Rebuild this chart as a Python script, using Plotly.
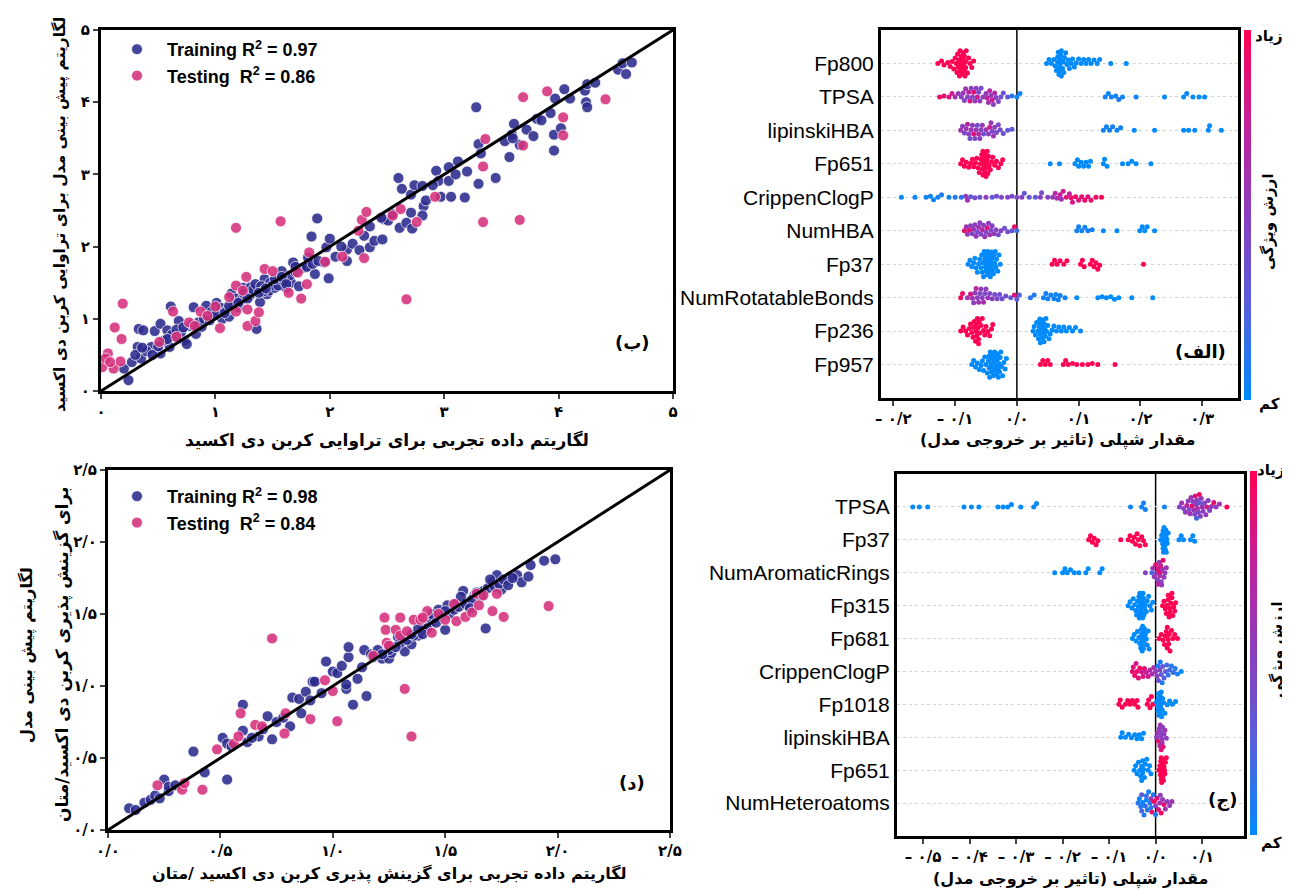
import numpy as np
import plotly.graph_objects as go

# ---------------- Panel (ب): CO2 permeability (log) ----------------
perm_train = [(0.24,0.15),(0.20,0.31),(0.27,0.40),(0.32,0.61),(0.33,0.86),(0.37,0.84),(0.35,0.45),(0.44,0.61),(0.47,0.83),(0.52,0.93),(0.52,0.52),(0.58,0.84),(0.60,0.61),(0.61,1.17),(0.65,0.75),(0.68,0.97),(0.73,0.70),(0.75,0.65),(0.81,1.16),(0.83,0.79),(0.88,0.89),(0.92,1.18),(0.95,1.05),(1.01,1.22),(1.02,1.08),(1.06,1.00),(1.12,1.03),(1.14,1.35),(1.20,1.16),(1.24,1.43),(1.27,1.30),(1.31,1.44),(1.36,0.86),(1.39,1.23),(1.43,1.55),(1.45,1.34),(1.47,1.39),(1.52,1.43),(1.56,1.55),(1.58,1.66),(1.62,1.43),(1.66,1.50),(1.68,1.78),(1.73,1.45),(1.78,1.71),(1.81,1.85),(1.84,2.14),(1.87,1.62),(1.89,2.39),(1.95,1.78),(1.97,1.99),(1.99,1.56),(2.00,2.11),(2.05,1.86),(2.15,1.80),(2.15,1.96),(2.20,2.04),(2.26,1.95),(2.35,2.28),(2.35,1.99),(2.39,2.08),(2.46,2.10),(2.47,2.38),(2.51,2.36),(2.60,2.95),(2.61,2.26),(2.63,2.80),(2.67,2.33),(2.71,2.72),(2.71,2.47),(2.72,2.25),(2.74,2.85),(2.81,2.84),(2.82,2.56),(2.84,2.64),(2.81,2.43),(2.93,3.05),(2.95,2.91),(2.97,2.69),(3.04,3.10),(3.04,2.91),(3.06,2.69),(3.12,3.18),(3.18,2.68),(3.20,3.04),(3.28,3.93),(3.30,2.87),(3.30,3.42),(3.32,3.29),(3.45,2.95),(3.53,3.46),(3.57,3.24),(3.59,3.55),(3.61,3.70),(3.66,3.41),(3.72,3.62),(3.78,3.53),(3.81,3.77),(3.93,3.85),(3.96,3.55),(3.96,3.33),(3.97,4.05),(4.02,3.64),(4.05,4.18),(4.23,4.16),(4.24,4.00),(4.25,3.93),(4.25,4.25),(4.32,4.27),(4.52,4.45),(4.56,4.54),(4.59,4.39),(4.64,4.55),
              (0.40,0.55),(0.45,0.50),(0.55,0.70),(0.62,0.78),(0.70,0.82),(0.78,0.90),(0.85,0.95),(0.90,1.00),(0.97,1.10),(1.05,1.15),(1.10,1.12),(1.15,1.20),(1.18,1.28),(1.22,1.25),(1.25,1.35),(1.30,1.32),(1.33,1.40),(1.35,1.48),(1.40,1.45),(1.42,1.38),(1.48,1.50),(1.50,1.47),(1.55,1.46),(1.60,1.52),(1.65,1.60),(1.70,1.65),(1.75,1.70),(1.80,1.72),(1.85,1.76),(1.90,1.80),(0.30,0.50),(0.36,0.60),(0.50,0.62),(0.58,0.72),(0.66,0.85),(0.72,0.88),(0.80,0.92),(0.95,0.98),(1.00,1.05),(1.08,1.08),(1.12,1.18),(1.20,1.22),(1.28,1.28),(1.38,1.36),(1.44,1.42),(1.52,1.55),(1.58,1.58),(1.62,1.48),(1.70,1.72),(2.10,2.00),(2.30,2.15),(2.45,2.40),(2.55,2.45),(2.90,2.85),(3.10,3.00),(3.60,3.50),(3.85,3.75),(4.10,4.05)]
perm_test = [(0.01,0.33),(0.06,0.52),(0.11,0.31),(0.12,0.88),(0.17,0.41),(0.18,0.72),(0.19,1.21),(0.51,0.68),(0.63,1.10),(0.66,0.75),(0.77,0.95),(0.82,0.90),(0.87,1.10),(1.00,1.17),(1.04,0.87),(1.18,1.10),(1.18,2.26),(1.18,1.46),(1.27,1.58),(1.28,0.90),(1.28,1.13),(1.35,0.97),(1.38,1.09),(1.43,1.69),(1.50,1.66),(1.57,2.35),(1.64,1.36),(1.72,1.64),(1.75,1.28),(1.80,1.48),(1.82,1.92),(1.96,1.79),(2.11,1.86),(2.30,1.84),(2.25,2.22),(2.28,2.37),(2.32,2.48),(2.55,2.43),(2.62,2.52),(2.67,1.27),(2.76,2.34),(2.92,2.69),(3.34,2.34),(3.34,3.11),(3.36,3.49),(3.66,2.37),(3.69,3.40),(3.69,4.07),(3.90,4.15),(4.04,3.54),(4.04,3.79),(4.41,4.04),(1.12,1.30),(1.24,1.39),(0.93,1.04),(0.04,0.45),(0.08,0.40)]

# ---------------- Panel (د): CO2/CH4 selectivity (log) ----------------
sel_train = [(0.094,0.151),(0.123,0.139),(0.162,0.19),(0.19,0.21),(0.21,0.24),(0.23,0.22),(0.25,0.35),(0.27,0.27),(0.38,0.545),(0.43,0.40),(0.51,0.64),(0.53,0.60),(0.53,0.35),(0.60,0.87),(0.60,0.69),(0.62,0.61),(0.67,0.65),(0.71,0.79),(0.73,0.63),(0.75,0.75),(0.81,0.72),(0.82,0.92),(0.85,0.91),(0.86,0.81),(0.88,0.96),(0.91,1.03),(0.92,1.03),(0.97,1.17),(1.00,1.10),(1.02,1.09),(1.04,1.14),(1.06,0.98),(1.06,1.01),(1.07,1.20),(1.07,1.27),(1.09,0.87),(1.11,1.05),(1.13,1.13),(1.14,1.25),(1.15,0.93),(1.17,1.22),(1.20,1.25),(1.22,1.19),(1.25,1.19),(1.26,1.23),(1.29,1.34),(1.32,1.24),(1.35,1.29),(1.38,1.35),(1.41,1.39),(1.44,1.45),(1.47,1.53),(1.50,1.39),(1.51,1.56),(1.55,1.57),(1.58,1.66),(1.60,1.58),(1.63,1.63),(1.67,1.66),(1.68,1.40),(1.71,1.72),(1.73,1.77),(1.75,1.67),(1.77,1.73),(1.79,1.76),(1.82,1.77),(1.84,1.72),(1.87,1.76),(1.88,1.84),(1.94,1.87),(1.99,1.88),
             (1.30,1.30),(1.33,1.32),(1.36,1.35),(1.40,1.42),(1.42,1.40),(1.45,1.47),(1.48,1.49),(1.52,1.50),(1.54,1.53),(1.56,1.55),(1.59,1.57),(1.62,1.60),(1.64,1.65),(1.66,1.62),(1.69,1.68),(1.72,1.69),(1.74,1.71),(1.76,1.74),(1.78,1.70),(1.80,1.75),(1.25,1.25),(1.28,1.27),(1.18,1.20),(1.22,1.22),(1.44,1.50),(1.46,1.44),(1.50,1.52),(1.57,1.62),(1.61,1.54),(1.70,1.74),(0.55,0.58),(0.64,0.64),(0.69,0.70),(0.78,0.78),(0.90,0.90),(0.95,0.95),(0.27,0.30),(0.30,0.31),(1.35,1.36),(1.38,1.40),(1.40,1.36)]
sel_test = [(0.22,0.31),(0.33,0.28),(0.34,0.325),(0.42,0.28),(0.485,0.56),(0.56,0.60),(0.58,0.65),(0.59,0.81),(0.655,0.73),(0.685,0.72),(0.73,1.33),(0.785,0.67),(0.79,0.81),(0.90,0.77),(0.965,1.04),(1.00,0.965),(1.02,0.755),(1.18,1.21),(1.23,1.475),(1.235,1.39),(1.24,1.30),(1.25,1.28),(1.28,1.39),(1.30,1.475),(1.30,1.35),(1.32,0.98),(1.33,1.38),(1.35,0.65),(1.36,1.46),(1.39,1.46),(1.42,1.52),(1.44,1.37),(1.50,1.46),(1.54,1.57),(1.55,1.45),(1.59,1.48),(1.62,1.51),(1.64,1.64),(1.65,1.56),(1.67,1.63),(1.71,1.52),(1.73,1.64),(1.76,1.48),(1.96,1.555),(1.40,1.475),(1.47,1.50)]

# ---------------- Panel (الف): SHAP, permeability model ----------------
A_features = ["Fp800", "TPSA", "lipinskiHBA", "Fp651", "CrippenClogP", "NumHBA", "Fp37", "NumRotatableBonds", "Fp236", "Fp957"]
A_Fp800_high = [-0.128,-0.122,-0.118,-0.112,-0.108,-0.105,-0.102,-0.1,-0.098,-0.097,-0.095,-0.094,-0.093,-0.092,-0.091,-0.09,-0.089,-0.088,-0.087,-0.086,-0.085,-0.084,-0.083,-0.082,-0.08,-0.078,-0.076,-0.073,-0.07,-0.096,-0.091,-0.089,-0.087,-0.085,-0.083]
A_Fp800_low = [0.048,0.052,0.056,0.06,0.062,0.064,0.066,0.067,0.068,0.069,0.07,0.071,0.072,0.074,0.075,0.077,0.079,0.081,0.083,0.085,0.088,0.09,0.093,0.096,0.1,0.104,0.108,0.112,0.116,0.12,0.125,0.13,0.134,0.152,0.177,0.066,0.068,0.07,0.072,0.076]
A_TPSA_shap = [-0.125,-0.118,-0.11,-0.105,-0.1,-0.095,-0.09,-0.087,-0.085,-0.083,-0.08,-0.078,-0.076,-0.074,-0.072,-0.07,-0.068,-0.066,-0.064,-0.062,-0.06,-0.058,-0.055,-0.05,-0.048,-0.046,-0.044,-0.042,-0.04,-0.038,-0.036,-0.034,-0.03,-0.026,-0.022,-0.015,-0.008,0.0,0.005,0.143,0.148,0.153,0.16,0.165,0.171,0.193,0.239,0.27,0.275,0.285,0.295,0.304]
A_TPSA_val = [0.95,0.9,0.85,0.8,0.6,0.55,0.5,0.55,0.45,0.6,0.5,0.7,0.85,0.5,0.45,0.9,0.55,0.5,0.8,0.45,0.5,0.4,0.5,0.55,0.75,0.6,0.7,0.55,0.8,0.5,0.65,0.5,0.45,0.4,0.35,0.3,0.1,0.05,0.05,0.05,0.05,0.05,0.05,0.1,0.05,0.05,0.0,0.0,0.05,0.0,0.0,0.0]
A_lipinskiHBA_shap = [-0.091,-0.088,-0.085,-0.082,-0.08,-0.078,-0.076,-0.074,-0.072,-0.07,-0.068,-0.066,-0.064,-0.062,-0.06,-0.058,-0.056,-0.054,-0.05,-0.046,-0.044,-0.042,-0.04,-0.038,-0.036,-0.033,-0.03,-0.027,-0.022,-0.015,-0.008,0.14,0.145,0.15,0.155,0.162,0.168,0.19,0.223,0.27,0.278,0.288,0.31,0.312,0.331]
A_lipinskiHBA_val = [0.6,0.5,0.45,0.55,0.7,0.5,0.4,0.6,0.5,0.85,0.45,0.55,0.4,0.7,0.5,0.45,0.55,0.35,0.6,0.5,0.8,0.55,0.45,0.6,0.5,0.4,0.45,0.4,0.35,0.3,0.3,0.05,0.05,0.05,0.05,0.05,0.05,0.0,0.0,0.0,0.0,0.0,0.0,0.0,0.0]
A_Fp651_high = [-0.091,-0.088,-0.085,-0.082,-0.078,-0.075,-0.072,-0.07,-0.067,-0.065,-0.063,-0.061,-0.059,-0.058,-0.057,-0.056,-0.055,-0.054,-0.053,-0.052,-0.051,-0.05,-0.049,-0.048,-0.047,-0.046,-0.045,-0.043,-0.041,-0.039,-0.036,-0.033,-0.03,-0.026,-0.023,-0.055,-0.052,-0.05,-0.048]
A_Fp651_low = [0.054,0.069,0.094,0.098,0.1,0.104,0.108,0.112,0.116,0.119,0.14,0.142,0.146,0.171,0.18,0.186,0.193,0.217]
A_CrippenClogP_shap = [-0.187,-0.165,-0.147,-0.14,-0.135,-0.128,-0.122,-0.11,-0.1,-0.09,-0.083,-0.08,-0.075,-0.068,-0.06,-0.05,-0.04,-0.033,-0.025,-0.015,-0.008,0.0,0.008,0.012,0.02,0.03,0.038,0.04,0.05,0.058,0.062,0.065,0.07,0.072,0.075,0.08,0.085,0.088,0.09,0.095,0.1,0.105,0.11,0.115,0.12,0.128,0.137]
A_CrippenClogP_val = [0.0,0.02,0.05,0.05,0.03,0.05,0.08,0.05,0.1,0.15,0.55,0.6,0.3,0.4,0.35,0.55,0.3,0.4,0.45,0.5,0.4,0.45,0.5,0.3,0.35,0.3,0.5,0.4,0.45,0.55,0.7,0.65,0.75,0.6,0.8,0.85,0.75,0.9,0.8,0.95,0.85,0.9,0.95,0.85,0.9,0.95,1.0]
A_NumHBA_shap = [-0.085,-0.082,-0.08,-0.077,-0.075,-0.072,-0.07,-0.068,-0.066,-0.064,-0.062,-0.06,-0.058,-0.056,-0.054,-0.052,-0.05,-0.048,-0.046,-0.044,-0.042,-0.04,-0.037,-0.034,-0.03,-0.026,-0.02,-0.015,-0.008,-0.004,0.0,0.097,0.1,0.105,0.11,0.115,0.122,0.14,0.162,0.199,0.203,0.207,0.211,0.223]
A_NumHBA_val = [0.9,0.6,0.55,0.85,0.5,0.45,0.6,0.5,0.55,0.4,0.6,0.5,0.45,0.7,0.5,0.55,0.45,0.85,0.5,0.6,0.45,0.5,0.55,0.45,0.4,0.5,0.35,0.4,0.3,0.9,0.2,0.05,0.05,0.05,0.05,0.05,0.05,0.0,0.0,0.0,0.0,0.0,0.0,0.0]
A_Fp37_high = [0.057,0.061,0.065,0.07,0.076,0.081,0.103,0.106,0.109,0.119,0.122,0.125,0.128,0.131,0.134,0.205]
A_Fp37_low = [-0.079,-0.076,-0.073,-0.07,-0.068,-0.066,-0.064,-0.062,-0.06,-0.058,-0.057,-0.056,-0.055,-0.054,-0.053,-0.052,-0.051,-0.05,-0.049,-0.048,-0.047,-0.046,-0.045,-0.044,-0.043,-0.042,-0.041,-0.04,-0.039,-0.038,-0.037,-0.036,-0.035,-0.034,-0.033,-0.031,-0.029,-0.027,-0.05,-0.047,-0.044,-0.041]
A_NumRot_shap = [-0.091,-0.088,-0.08,-0.075,-0.072,-0.07,-0.068,-0.066,-0.064,-0.062,-0.06,-0.058,-0.056,-0.054,-0.052,-0.05,-0.047,-0.044,-0.04,-0.036,-0.032,-0.028,-0.024,-0.018,-0.01,-0.004,0.0,0.004,0.022,0.028,0.043,0.047,0.05,0.055,0.06,0.063,0.067,0.07,0.078,0.097,0.131,0.138,0.145,0.152,0.158,0.165,0.186,0.22]
A_NumRot_val = [0.95,0.9,0.6,0.85,0.6,0.5,0.55,0.7,0.5,0.6,0.45,0.55,0.5,0.65,0.45,0.5,0.55,0.45,0.5,0.4,0.45,0.4,0.35,0.4,0.3,0.85,0.3,0.25,0.1,0.1,0.05,0.05,0.05,0.05,0.05,0.05,0.05,0.05,0.05,0.0,0.0,0.0,0.0,0.0,0.0,0.0,0.0,0.0]
A_Fp236_high = [-0.091,-0.087,-0.083,-0.08,-0.077,-0.075,-0.073,-0.071,-0.069,-0.067,-0.066,-0.065,-0.064,-0.063,-0.062,-0.061,-0.06,-0.058,-0.056,-0.054,-0.052,-0.05,-0.047,-0.044,-0.041,-0.039,-0.07,-0.066,-0.062]
A_Fp236_low = [0.026,0.028,0.03,0.032,0.034,0.036,0.037,0.038,0.039,0.04,0.041,0.042,0.043,0.044,0.045,0.046,0.047,0.048,0.05,0.052,0.054,0.057,0.06,0.064,0.068,0.072,0.076,0.08,0.085,0.09,0.095,0.103,0.035,0.038,0.041,0.044]
A_Fp957_high = [0.038,0.042,0.046,0.05,0.054,0.075,0.079,0.083,0.09,0.097,0.106,0.115,0.122,0.131,0.159]
A_Fp957_low = [-0.073,-0.07,-0.067,-0.064,-0.061,-0.058,-0.056,-0.054,-0.052,-0.05,-0.048,-0.046,-0.045,-0.044,-0.043,-0.042,-0.041,-0.04,-0.039,-0.038,-0.037,-0.036,-0.035,-0.034,-0.033,-0.032,-0.031,-0.03,-0.029,-0.028,-0.027,-0.026,-0.025,-0.023,-0.021,-0.019,-0.017,-0.045,-0.04,-0.035,-0.03]

# ---------------- Panel (ج): SHAP, selectivity model ----------------
C_features = ["TPSA", "Fp37", "NumAromaticRings", "Fp315", "Fp681", "CrippenClogP", "Fp1018", "lipinskiHBA", "Fp651", "NumHeteroatoms"]
C_TPSA_shap = [-0.522,-0.508,-0.49,-0.412,-0.396,-0.38,-0.339,-0.328,-0.318,-0.31,-0.29,-0.262,-0.256,-0.054,-0.03,-0.026,-0.022,0.019,0.051,0.056,0.06,0.064,0.067,0.07,0.072,0.074,0.076,0.078,0.08,0.082,0.084,0.085,0.087,0.089,0.09,0.092,0.094,0.096,0.098,0.1,0.102,0.105,0.108,0.11,0.113,0.116,0.12,0.125,0.13,0.137,0.153,0.088,0.095]
C_TPSA_val = [0.0,0.0,0.0,0.0,0.0,0.0,0.0,0.0,0.0,0.0,0.0,0.0,0.0,0.05,0.05,0.05,0.05,0.05,0.5,0.6,0.45,0.55,0.7,0.5,0.45,0.6,0.55,0.9,0.5,0.6,0.45,0.85,0.55,0.5,0.65,0.45,0.95,0.5,0.55,0.6,0.5,0.45,0.55,0.8,0.5,0.45,0.55,0.9,0.5,0.6,1.0,0.2,0.3]
C_Fp37_high = [-0.144,-0.14,-0.136,-0.132,-0.128,-0.124,-0.075,-0.059,-0.055,-0.05,-0.046,-0.043,-0.04,-0.037,-0.034,-0.03,-0.026,-0.022]
C_Fp37_low = [0.011,0.013,0.015,0.016,0.017,0.018,0.019,0.02,0.021,0.022,0.023,0.024,0.025,0.027,0.05,0.055,0.06,0.075,0.08,0.084,0.016,0.018,0.02,0.022]
C_NumArom_shap = [-0.217,-0.2,-0.195,-0.19,-0.183,-0.175,-0.165,-0.15,-0.145,-0.12,-0.115,-0.022,-0.006,-0.003,0.0,0.002,0.004,0.006,0.008,0.01,0.012,0.014,0.016,0.018,0.02,0.023,0.005,0.009,0.011,0.013,-0.008]
C_NumArom_val = [0.0,0.0,0.0,0.0,0.0,0.0,0.0,0.0,0.0,0.0,0.0,0.5,0.6,0.55,0.9,0.6,0.5,0.85,0.55,0.95,0.5,0.6,0.9,0.55,0.5,0.6,0.7,0.65,0.8,0.55,0.2]
C_Fp315_high = [0.015,0.018,0.021,0.023,0.025,0.027,0.029,0.031,0.033,0.035,0.037,0.039,0.041,0.043,0.027,0.031,0.035]
C_Fp315_low = [-0.059,-0.055,-0.051,-0.048,-0.045,-0.043,-0.041,-0.039,-0.037,-0.036,-0.035,-0.034,-0.033,-0.032,-0.031,-0.03,-0.029,-0.028,-0.027,-0.026,-0.025,-0.024,-0.022,-0.02,-0.018,-0.015,-0.012,-0.009,-0.006,-0.035,-0.032,-0.03,-0.028]
C_Fp681_high = [0.007,0.012,0.016,0.019,0.021,0.023,0.025,0.027,0.029,0.031,0.034,0.037,0.041,0.047,0.025,0.028]
C_Fp681_low = [-0.05,-0.046,-0.042,-0.039,-0.036,-0.034,-0.032,-0.031,-0.03,-0.029,-0.028,-0.027,-0.026,-0.025,-0.024,-0.022,-0.02,-0.018,-0.016,-0.014,-0.03,-0.028,-0.026]
C_CrippenClogP_shap = [-0.05,-0.048,-0.045,-0.042,-0.04,-0.037,-0.034,-0.03,-0.027,-0.024,-0.02,-0.016,-0.012,-0.008,-0.004,0.0,0.003,0.006,0.009,0.012,0.015,0.018,0.021,0.024,0.027,0.03,0.034,0.038,0.042,0.047,0.055,0.005,0.01,0.014]
C_CrippenClogP_val = [0.9,0.85,0.95,0.8,0.9,0.85,0.95,0.8,0.85,0.9,0.75,0.8,0.7,0.65,0.6,0.55,0.5,0.4,0.45,0.3,0.35,0.25,0.3,0.2,0.15,0.2,0.1,0.15,0.1,0.05,0.0,0.1,0.05,0.1]
C_Fp1018_high = [-0.079,-0.076,-0.072,-0.065,-0.06,-0.055,-0.05,-0.045,-0.04,-0.038,-0.018,-0.015,-0.012,-0.009,-0.006]
C_Fp1018_low = [0.002,0.004,0.005,0.006,0.007,0.008,0.009,0.01,0.011,0.012,0.013,0.014,0.015,0.017,0.02,0.025,0.03,0.036,0.043,0.006,0.008,0.01]
C_lipinskiHBA_shap = [-0.075,-0.072,-0.065,-0.058,-0.052,-0.045,-0.04,-0.035,-0.03,-0.026,0.002,0.004,0.006,0.008,0.01,0.011,0.012,0.013,0.014,0.015,0.016,0.018,0.02,0.023,0.009,0.012]
C_lipinskiHBA_val = [0.0,0.0,0.0,0.0,0.0,0.0,0.0,0.0,0.0,0.0,0.5,0.6,0.9,0.55,0.6,0.5,0.85,0.55,0.6,0.5,0.9,0.55,0.6,0.5,0.7,0.45]
C_Fp651_high = [0.007,0.009,0.01,0.011,0.012,0.013,0.014,0.015,0.016,0.017,0.018,0.019,0.02,0.021,0.023,0.012,0.014,0.016]
C_Fp651_low = [-0.046,-0.043,-0.04,-0.037,-0.034,-0.032,-0.03,-0.028,-0.026,-0.024,-0.022,-0.019,-0.016,-0.013,-0.01,-0.03,-0.028]
C_NumHetero_shap = [-0.038,-0.035,-0.032,-0.03,-0.028,-0.025,-0.022,-0.02,-0.018,-0.015,-0.012,-0.01,-0.008,-0.005,-0.003,0.0,0.003,0.006,0.009,0.012,0.015,0.018,0.021,0.025,0.03,0.035,-0.03,-0.02,-0.01,0.0,0.01]
C_NumHetero_val = [0.1,0.05,0.1,0.2,0.05,0.1,0.15,0.0,0.1,0.05,0.1,0.6,0.9,0.1,0.95,0.5,0.9,0.85,0.6,0.95,0.55,0.9,0.6,0.5,0.55,0.6,0.3,0.15,0.1,0.05,0.5]

# tick labels
perm_ticks = [0, 1, 2, 3, 4, 5]
perm_ticktext = ["۰", "۱", "۲", "۳", "۴", "۵"]
sel_ticks = [0, 0.5, 1.0, 1.5, 2.0, 2.5]
sel_ticktext = ["۰/۰", "۰/۵", "۱/۰", "۱/۵", "۲/۰", "۲/۵"]
A_ticks = [-0.2, -0.1, 0.0, 0.1, 0.2, 0.3]
A_ticktext = ["– ۰/۲", "– ۰/۱", "۰/۰", "۰/۱", "۰/۲", "۰/۳"]
C_ticks = [-0.5, -0.4, -0.3, -0.2, -0.1, 0.0, 0.1]
C_ticktext = ["– ۰/۵", "– ۰/۴", "– ۰/۳", "– ۰/۲", "– ۰/۱", "۰/۰", "۰/۱"]

# ---------------- helpers ----------------
# the page adds an 8 px body margin, so the figure is 8 px smaller and positions are shifted
OFF = 8
W, H = 1290 - OFF, 892 - OFF
FA = "DejaVu Sans"
FL = "Liberation Sans"
BLUE_TR = "#2c2b8e"
PINK_TE = "#d6317c"
SHAP_CS = [[0.0, "#008afb"], [0.25, "#5660dc"], [0.5, "#8a3fbf"], [0.75, "#c2209a"], [1.0, "#ff0052"]]
NB = "\u00a0"


def binary(high, low):
    return list(high) + list(low), [1.0] * len(high) + [0.0] * len(low)


def swarm(vals, xpx, ypx, dia=4.4, maxoff=12.5):
    v = np.asarray(vals, float)
    px = v * xpx
    order = np.argsort(px, kind="stable")
    cands = [0.0]
    k = 0.5
    while k <= maxoff:
        cands += [k, -k]
        k += 0.5
    placed = []
    off = np.zeros(len(v))
    for i in order:
        near = [(qx, qy) for qx, qy in placed if abs(qx - px[i]) < dia]
        best, bestd, bestc = None, -1, 0.0
        for c in cands:
            dmin = min([((qx - px[i]) ** 2 + (qy - c) ** 2) ** 0.5 for qx, qy in near] or [99])
            if dmin >= dia:
                best = c
                break
            if dmin > bestd:
                bestd, bestc = dmin, c
        if best is None:
            best = bestc
        off[i] = best
        placed.append((px[i], best))
    return off / ypx


def px2x(p):
    return (p - OFF) / W


def px2y(p):
    return 1 - (p - OFF) / H


fig = go.Figure()

# scatter panels
for pts, name, color, xa, ya, leg in [
    (perm_train, NB * 2 + "Training R<sup>2</sup> = 0.97", BLUE_TR, "x", "y", "legend"),
    (perm_test, NB * 2 + "Testing" + NB + " R<sup>2</sup> = 0.86", PINK_TE, "x", "y", "legend"),
    (sel_train, NB * 2 + "Training R<sup>2</sup> = 0.98", BLUE_TR, "x3", "y3", "legend2"),
    (sel_test, NB * 2 + "Testing" + NB + " R<sup>2</sup> = 0.84", PINK_TE, "x3", "y3", "legend2"),
]:
    xs = [p[0] for p in pts]
    ys = [p[1] for p in pts]
    fig.add_trace(go.Scatter(x=xs, y=ys, mode="markers", name=name, xaxis=xa, yaxis=ya, legend=leg,
                             marker=dict(size=11, color=color, opacity=0.88, line=dict(color="white", width=0.8))))

# SHAP panels
A_rows = [
    binary(A_Fp800_high, A_Fp800_low),
    (A_TPSA_shap, A_TPSA_val),
    (A_lipinskiHBA_shap, A_lipinskiHBA_val),
    binary(A_Fp651_high, A_Fp651_low),
    (A_CrippenClogP_shap, A_CrippenClogP_val),
    (A_NumHBA_shap, A_NumHBA_val),
    binary(A_Fp37_high, A_Fp37_low),
    (A_NumRot_shap, A_NumRot_val),
    binary(A_Fp236_high, A_Fp236_low),
    binary(A_Fp957_high, A_Fp957_low),
]
C_rows = [
    (C_TPSA_shap, C_TPSA_val),
    binary(C_Fp37_high, C_Fp37_low),
    (C_NumArom_shap, C_NumArom_val),
    binary(C_Fp315_high, C_Fp315_low),
    binary(C_Fp681_high, C_Fp681_low),
    (C_CrippenClogP_shap, C_CrippenClogP_val),
    binary(C_Fp1018_high, C_Fp1018_low),
    (C_lipinskiHBA_shap, C_lipinskiHBA_val),
    binary(C_Fp651_high, C_Fp651_low),
    (C_NumHetero_shap, C_NumHetero_val),
]

for rows, xa, ya, cax, xpx in [(A_rows, "x2", "y2", "coloraxis", 617.6), (C_rows, "x4", "y4", "coloraxis2", 465.0)]:
    n = len(rows)
    allx, ally, allc = [], [], []
    for i, (sv, fv) in enumerate(rows):
        pos = n - 1 - i
        offs = swarm(sv, xpx, 33.2)
        allx += list(sv)
        ally += list(pos + offs)
        allc += list(fv)
    fig.add_trace(go.Scatter(x=allx, y=ally, mode="markers", xaxis=xa, yaxis=ya, showlegend=False,
                             marker=dict(size=5, color=allc, coloraxis=cax, line=dict(width=0))))

box = dict(showline=True, linewidth=3, linecolor="black", mirror=True, showgrid=False, zeroline=False, automargin=False)
tickf = dict(family=FA, size=15, color="black", weight="bold")
shapy = dict(ticks="", tickfont=dict(family=FL, size=21, color="black"), automargin=False,
             showline=True, linewidth=3, linecolor="black", mirror=True, zeroline=False,
             showgrid=True, gridcolor="#d4d4d4", griddash="dot", gridwidth=1)
legfont = dict(family=FL, size=18, color="black", weight="bold")

fig.update_layout(
    width=W, height=H, margin=dict(l=0, r=0, t=0, b=0, autoexpand=False),
    paper_bgcolor="white", plot_bgcolor="white",
    font=dict(family=FL, color="black"),
    xaxis=dict(domain=[px2x(101), px2x(673)], range=[0, 5], anchor="y", tickvals=perm_ticks, ticktext=perm_ticktext,
               ticks="outside", ticklen=5, tickwidth=2, tickfont=tickf, **box),
    yaxis=dict(domain=[px2y(391), px2y(30)], range=[0, 5], anchor="x", tickvals=perm_ticks, ticktext=perm_ticktext,
               ticks="outside", ticklen=5, tickwidth=2, tickfont=tickf, **box),
    xaxis2=dict(domain=[px2x(881), px2x(1238)], range=[-0.22, 0.358], anchor="y2", tickvals=A_ticks, ticktext=A_ticktext,
                ticks="outside", ticklen=5, tickwidth=1.5, tickfont=tickf, **box),
    yaxis2=dict(domain=[px2y(398), px2y(30)], range=[-1, 10], anchor="x2", tickvals=list(range(10)),
                ticktext=A_features[::-1], **shapy),
    xaxis3=dict(domain=[px2x(108), px2x(670)], range=[0, 2.5], anchor="y3", tickvals=sel_ticks, ticktext=sel_ticktext,
                ticks="outside", ticklen=5, tickwidth=2, tickfont=tickf, **box),
    yaxis3=dict(domain=[px2y(830), px2y(470)], range=[0, 2.5], anchor="x3", tickvals=sel_ticks, ticktext=sel_ticktext,
                ticks="outside", ticklen=5, tickwidth=2, tickfont=tickf, **box),
    xaxis4=dict(domain=[px2x(897), px2x(1244)], range=[-0.556, 0.19], anchor="y4", tickvals=C_ticks, ticktext=C_ticktext,
                ticks="outside", ticklen=5, tickwidth=1.5, tickfont=tickf, **box),
    yaxis4=dict(domain=[px2y(836), px2y(474)], range=[-1, 10], anchor="x4", tickvals=list(range(10)),
                ticktext=C_features[::-1], **shapy),
    coloraxis=dict(colorscale=SHAP_CS, cmin=0, cmax=1,
                   colorbar=dict(x=px2x(1244), xanchor="left", y=px2y(215), yanchor="middle", len=370 / H,
                                 thickness=7, showticklabels=False, ticks="", outlinewidth=0, xpad=0, ypad=0)),
    coloraxis2=dict(colorscale=SHAP_CS, cmin=0, cmax=1,
                    colorbar=dict(x=px2x(1250), xanchor="left", y=px2y(653), yanchor="middle", len=364 / H,
                                  thickness=7, showticklabels=False, ticks="", outlinewidth=0, xpad=0, ypad=0)),
    legend=dict(x=px2x(117), y=px2y(31), xanchor="left", yanchor="top", bgcolor="rgba(0,0,0,0)",
                font=legfont, itemwidth=30, tracegroupgap=0),
    legend2=dict(x=px2x(117), y=px2y(478), xanchor="left", yanchor="top", bgcolor="rgba(0,0,0,0)",
                 font=legfont, itemwidth=30, tracegroupgap=0),
)

# diagonal reference lines and SHAP zero lines
fig.add_shape(type="line", x0=0, y0=0, x1=5, y1=5, xref="x", yref="y", line=dict(color="black", width=3))
fig.add_shape(type="line", x0=0, y0=0, x1=2.5, y1=2.5, xref="x3", yref="y3", line=dict(color="black", width=3))
fig.add_shape(type="line", x0=0, x1=0, y0=0, y1=1, xref="x2", yref="y2 domain", line=dict(color="black", width=1.5), layer="below")
fig.add_shape(type="line", x0=0, x1=0, y0=0, y1=1, xref="x4", yref="y4 domain", line=dict(color="black", width=1.5), layer="below")


def ann(text, x, y, size=16, angle=0, xanchor="center"):
    fig.add_annotation(text=text, x=px2x(x), y=px2y(y), xref="paper", yref="paper", showarrow=False,
                       textangle=angle, xanchor=xanchor, yanchor="middle",
                       font=dict(family=FA, size=size, color="black", weight="bold"))


ann("لگاریتم پیش بینی مدل برای تراوایی کربن دی اکسید", 60, 215, 15.5, -90)
ann("لگاریتم داده تجربی برای تراوایی کربن دی اکسید", 387, 440, 17)
ann("مقدار شپلی (تاثیر بر خروجی مدل)", 1057, 440, 16)
ann("لگاریتم پیش بینی مدل", 27, 655, 16, -90)
ann("برای گزینش پذیری کربن دی اکسید/متان", 62, 655, 17, -90)
ann("لگاریتم داده تجربی برای گزینش پذیری کربن دی اکسید /متان", 389, 874, 16)
ann("مقدار شپلی (تاثیر بر خروجی مدل)", 1070, 879, 16)
ann("(ب)", 632, 342, 18)
ann("(د)", 632, 782, 18)
ann("(الف)", 1200, 352, 18)
ann("(ج)", 1222, 800, 18)
ann("زیاد", 1269, 36, 15)
ann("کم", 1269, 404, 15)
ann("ارزش ویژگی", 1268, 222, 15, -90)
ann("زیاد", 1271, 470, 15)
ann("کم", 1271, 843, 15)
ann("ارزش ویژگی", 1277, 650, 15, -90)

fig.write_html("out.html")
